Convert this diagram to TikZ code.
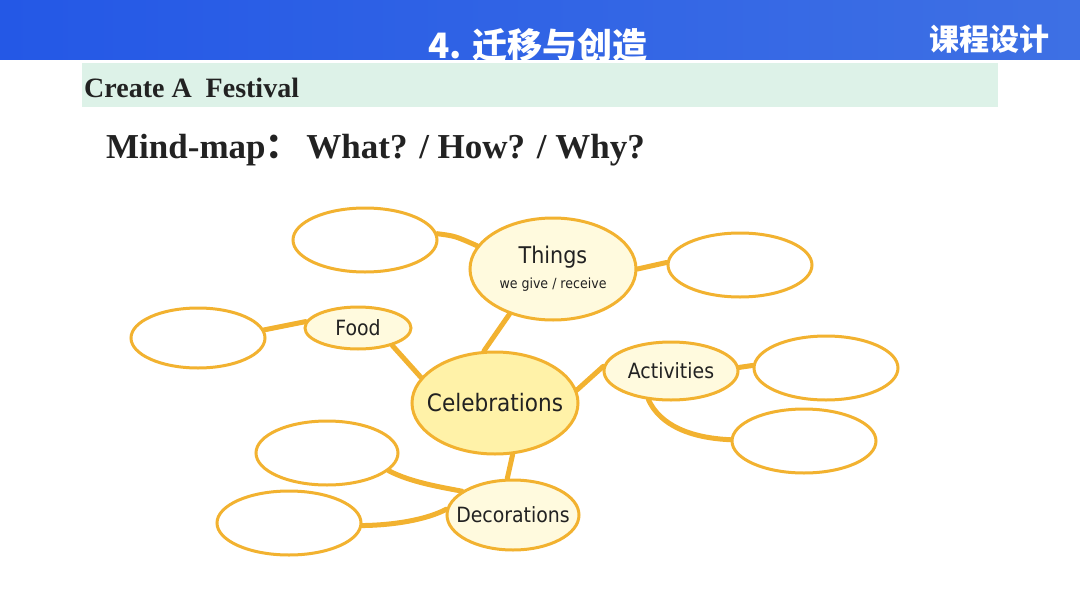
\documentclass[tikz,border=0pt]{standalone}
\usepackage{fontspec}
\setmainfont{Liberation Serif}
\newfontfamily\cjk{Noto Sans CJK SC}
\newfontfamily\hand{DejaVu Sans Condensed}
\usetikzlibrary{shapes.geometric}
\definecolor{HeadL}{RGB}{36,88,230}
\definecolor{HeadR}{RGB}{62,112,228}
\definecolor{Mint}{RGB}{221,242,232}
\definecolor{Orange}{RGB}{242,178,48}
\definecolor{Cream}{RGB}{255,250,222}
\definecolor{Sun}{RGB}{255,242,168}
\definecolor{Ink}{RGB}{34,34,34}

\begin{document}
\begin{tikzpicture}[
    x=1pt, y=-1pt,
    bubble/.style={ellipse, draw=Orange, fill=white, line width=3pt, inner sep=0pt},
    topic/.style={bubble, fill=Cream},
    word/.style={Ink, font=\hand\fontsize{21}{21}\selectfont},
    link/.style={draw=Orange, line width=5pt, line cap=round}
]
  \useasboundingbox (0,0) rectangle (1080,608);

  % header
  \shade[left color=HeadL, right color=HeadR] (0,0) rectangle (1080,59);
  \node[anchor=base, white, font=\cjk\bfseries\fontsize{35}{35}\selectfont] (title) at (538,58) {4. 迁移与创造};
  \node[anchor=base, white, font=\cjk\bfseries\fontsize{30}{30}\selectfont] (course) at (989,50) {课程设计};
  \fill[Mint] (82,63) rectangle (998,107);
  \node[anchor=base west, inner sep=0pt, text=Ink, font=\bfseries\fontsize{28}{28}\selectfont] (task) at (84,97) {Create A\ \ Festival};
  \node[anchor=base west, inner sep=0pt, text=Ink, font=\bfseries\fontsize{35}{35}\selectfont] (ask) at (106,158) {Mind-map{\cjk\bfseries ：}\,What? / How? / Why?};

  % topics
  \node[topic, fill=Sun, minimum width=166pt, minimum height=102pt,
    label={[word, font=\hand\fontsize{24}{24}\selectfont]center:Celebrations}] (celeb) at (495,403) {};
  \node[topic, minimum width=166pt, minimum height=102pt,
    label={[word, align=center]center:{\fontsize{23}{23}\selectfont Things\\[4pt]\fontsize{14}{14}\selectfont we give / receive}}] (things) at (553,269) {};
  \node[topic, minimum width=106pt, minimum height=42pt, label={[word]center:Food}] (food) at (358,328) {};
  \node[topic, minimum width=134pt, minimum height=58pt, label={[word]center:Activities}] (act) at (671,371) {};
  \node[topic, minimum width=132pt, minimum height=70pt, label={[word]center:Decorations}] (deco) at (513,515) {};

  % empty bubbles
  \node[bubble, minimum width=144pt, minimum height=64pt] (gift1) at (365,240) {};
  \node[bubble, minimum width=144pt, minimum height=64pt] (gift2) at (740,265) {};
  \node[bubble, minimum width=134pt, minimum height=60pt] (food1) at (198,338) {};
  \node[bubble, minimum width=144pt, minimum height=64pt] (act1) at (826,368) {};
  \node[bubble, minimum width=144pt, minimum height=64pt] (act2) at (804,441) {};
  \node[bubble, minimum width=142pt, minimum height=64pt] (deco1) at (327,453) {};
  \node[bubble, minimum width=144pt, minimum height=64pt] (deco2) at (289,523) {};

  % links
  \draw[link] (gift1.5) .. controls (455,236) .. (things.163);
  \draw[link] (things.0) -- (gift2.178);
  \draw[link] (celeb.102) -- (things.226);
  \draw[link] (food1.7) -- (food.173);
  \draw[link] (food.333) -- (celeb.161);
  \draw[link] (celeb.9) -- (act.176);
  \draw[link] (act.3) -- (act1.178);
  \draw[link] (act.232) .. controls (660,425) and (690,438) .. (act2.179);
  \draw[link] (celeb.289) -- (deco.99);
  \draw[link] (deco1.344) .. controls (410,482) and (440,487) .. (deco.155);
  \draw[link] (deco2.358) .. controls (400,525) and (430,518) .. (deco.175);
\end{tikzpicture}
\end{document}
